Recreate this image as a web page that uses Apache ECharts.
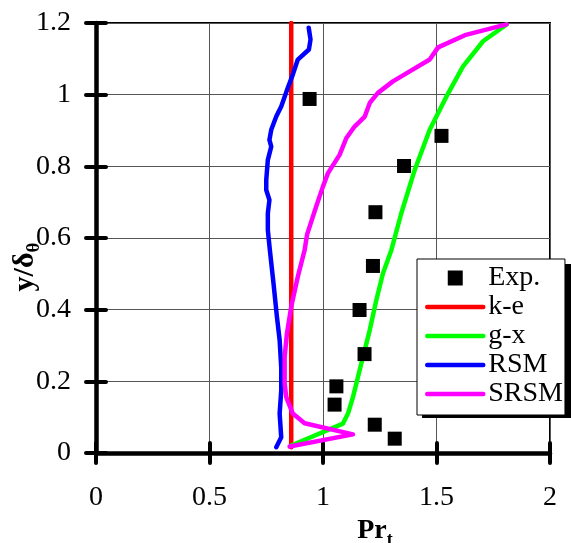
<!DOCTYPE html>
<html>
<head>
<meta charset="utf-8">
<script src="https://cdn.jsdelivr.net/npm/echarts@6/dist/echarts.min.js"></script>
<style>
html,body{margin:0;padding:0;background:#fff;}
#chart{width:571px;height:543px;}
</style>
</head>
<body>
<div id="chart"></div>
<script>
// ---- data ----
const seriesNames = ['Exp.', 'k-e', 'g-x', 'RSM', 'SRSM'];
const expX = [0.941, 1.522, 1.357, 1.231, 1.220, 1.161, 1.183, 1.059, 1.051, 1.228, 1.316];
const expY = [0.988, 0.885, 0.801, 0.672, 0.522, 0.399, 0.276, 0.186, 0.135, 0.079, 0.040];
const keX = [0.86, 0.86];
const keY = [0.016, 1.2];
const gxX = [0.860, 1.088, 1.110, 1.132, 1.154, 1.176, 1.206, 1.235, 1.264, 1.301, 1.345, 1.404, 1.470, 1.544, 1.617, 1.705, 1.809];
const gxY = [0.021, 0.082, 0.110, 0.156, 0.212, 0.268, 0.343, 0.427, 0.501, 0.566, 0.669, 0.790, 0.902, 0.995, 1.079, 1.149, 1.196];
const rsmX = [0.794, 0.816, 0.809, 0.816, 0.816, 0.809, 0.797, 0.782, 0.766, 0.757, 0.757, 0.764, 0.750, 0.750, 0.757, 0.772, 0.764, 0.772, 0.794, 0.816, 0.845, 0.867, 0.889, 0.938, 0.945, 0.937];
const rsmY = [0.016, 0.044, 0.110, 0.175, 0.240, 0.315, 0.380, 0.473, 0.566, 0.622, 0.669, 0.706, 0.734, 0.762, 0.818, 0.855, 0.874, 0.902, 0.939, 0.967, 1.019, 1.056, 1.098, 1.126, 1.154, 1.187];
const srsmX = [0.853, 1.132, 0.919, 0.867, 0.838, 0.831, 0.831, 0.841, 0.860, 0.889, 0.919, 0.930, 0.970, 1.000, 1.022, 1.073, 1.103, 1.139, 1.184, 1.206, 1.242, 1.308, 1.382, 1.470, 1.507, 1.625, 1.809];
const srsmY = [0.018, 0.052, 0.083, 0.110, 0.156, 0.194, 0.268, 0.333, 0.408, 0.492, 0.566, 0.610, 0.688, 0.744, 0.781, 0.832, 0.879, 0.911, 0.939, 0.977, 1.005, 1.037, 1.065, 1.098, 1.132, 1.166, 1.196];
const xMin = 0, xMax = 2, xStep = 0.5;
const yMin = 0, yMax = 1.2, yStep = 0.2;
const yTitle = '{a|y/δ}{b|θ}';
const xTitle = '{a|Pr}{b|t}';

const zip = (xs, ys) => xs.map((x, i) => [x, ys[i]]);
const FONT = "'Liberation Serif', 'Times New Roman', serif";
const chart = echarts.init(document.getElementById('chart'), null, {renderer: 'canvas'});

const baseX = {type: 'value', min: xMin, max: xMax, interval: xStep, position: 'bottom'};
const baseY = {type: 'value', min: yMin, max: yMax, interval: yStep, position: 'left'};

const lineSeries = (name, xs, ys, color) => ({
  name, type: 'line', data: zip(xs, ys), showSymbol: false, symbol: 'none',
  lineStyle: {color, width: 4.5, join: 'round', cap: 'round'}, itemStyle: {color},
  xAxisIndex: 0, yAxisIndex: 0, z: 3, animation: false
});
const hiddenSym = {opacity: 0};

chart.setOption({
  animation: false,
  grid: {left: 96, right: 21, top: 23, bottom: 90, containLabel: false, outerBoundsMode: 'none',
         show: true, borderColor: '#000', borderWidth: 2, backgroundColor: 'transparent'},
  graphic: [
    {type: 'rect', z: 3.5, silent: true, shape: {x: 422, y: 264, width: 149, height: 154}, style: {fill: '#000'}},
    {type: 'text', z: 10, silent: true, x: 25, y: 267, rotation: Math.PI / 2,
     style: {text: yTitle, align: 'center', verticalAlign: 'middle', rich: {
       a: {fontFamily: FONT, fontSize: 30, fontWeight: 'bold', fill: '#000', lineHeight: 30, verticalAlign: 'top'},
       b: {fontFamily: FONT, fontSize: 19, fontWeight: 'bold', fill: '#000', lineHeight: 19, verticalAlign: 'top', padding: [15, 0, 0, 0]}
     }}}
  ],
  xAxis: [
    Object.assign({}, baseX, {
      axisLine: {show: true, lineStyle: {color: '#000', width: 4.5}},
      axisTick: {show: true, inside: false, length: 10, lineStyle: {color: '#000', width: 4, cap: 'round'}},
      axisLabel: {color: '#000', fontFamily: FONT, fontSize: 28, margin: 31},
      splitLine: {show: true, lineStyle: {color: '#555', width: 1}},
      name: xTitle, nameLocation: 'middle', nameGap: 59,
      nameTextStyle: {padding: [0, 0, 0, 104], rich: {
        a: {fontFamily: FONT, fontSize: 28, fontWeight: 'bold', color: '#000', lineHeight: 28, verticalAlign: 'top'},
        b: {fontFamily: FONT, fontSize: 18, fontWeight: 'bold', color: '#000', lineHeight: 18, verticalAlign: 'top', padding: [14, 0, 0, 0]}
      }}
    }),
    Object.assign({}, baseX, {
      axisLine: {show: false}, axisLabel: {show: false}, splitLine: {show: false},
      axisTick: {show: true, inside: true, length: 10, lineStyle: {color: '#000', width: 4, cap: 'round'}}
    })
  ],
  yAxis: [
    Object.assign({}, baseY, {
      axisLine: {show: true, lineStyle: {color: '#000', width: 4.5}},
      axisTick: {show: true, inside: false, length: 10, lineStyle: {color: '#000', width: 4, cap: 'round'}},
      axisLabel: {color: '#000', fontFamily: FONT, fontSize: 28, margin: 25},
      splitLine: {show: true, lineStyle: {color: '#555', width: 1}}
    }),
    Object.assign({}, baseY, {
      axisLine: {show: false}, axisLabel: {show: false}, splitLine: {show: false},
      axisTick: {show: true, inside: true, length: 10, lineStyle: {color: '#000', width: 4, cap: 'round'}}
    })
  ],
  legend: {
    orient: 'vertical', left: 417, top: 259, z: 4,
    padding: [5, 2, 7, 8], itemGap: 1, itemWidth: 56, itemHeight: 15, itemTextGap: 6,
    backgroundColor: '#fff', borderColor: '#000', borderWidth: 1,
    lineStyle: {width: 4.5},
    textStyle: {color: '#000', fontFamily: FONT, fontSize: 28},
    data: [
      {name: 'Exp.', icon: 'path://M0 0H10V10H0Z', itemStyle: {color: '#000', opacity: 1}},
      {name: 'k-e', itemStyle: hiddenSym, lineStyle: {width: 4.5}},
      {name: 'g-x', itemStyle: hiddenSym, lineStyle: {width: 4.5}},
      {name: 'RSM', itemStyle: hiddenSym, lineStyle: {width: 4.5}},
      {name: 'SRSM', itemStyle: hiddenSym, lineStyle: {width: 4.5}}
    ]
  },
  series: [
    {name: seriesNames[0], type: 'scatter', data: zip(expX, expY), symbol: 'rect', symbolSize: 14,
     itemStyle: {color: '#000', opacity: 1}, z: 5, xAxisIndex: 0, yAxisIndex: 0},
    lineSeries(seriesNames[1], keX, keY, '#ff0000'),
    lineSeries(seriesNames[2], gxX, gxY, '#00ff00'),
    lineSeries(seriesNames[3], rsmX, rsmY, '#0000ff'),
    lineSeries(seriesNames[4], srsmX, srsmY, '#ff00ff')
  ]
});
</script>
</body>
</html>
